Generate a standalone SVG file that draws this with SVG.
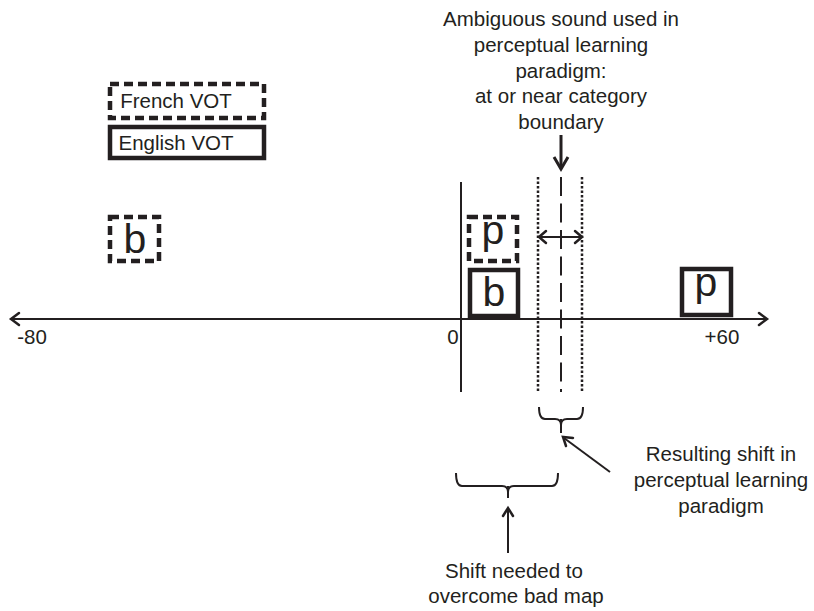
<svg xmlns="http://www.w3.org/2000/svg" width="814" height="611" viewBox="0 0 814 611">
<style>
text{font-family:"Liberation Sans",Arial,sans-serif;fill:#231f20}
.t{font-size:20.5px;text-anchor:middle}
.big{font-size:41px;text-anchor:middle}
.box{fill:none;stroke:#231f20;stroke-width:4.5}
.dash{stroke-dasharray:9 5}
.ln{fill:none;stroke:#231f20;stroke-width:2}
.dot{stroke:#231f20;stroke-width:2.5;stroke-dasharray:2.5 2}
.head{fill:none;stroke:#231f20;stroke-width:2.5;stroke-linecap:round;stroke-linejoin:miter}
</style>
<rect width="814" height="611" fill="#fff"/>
<g id="legend-french"><rect class="box dash" x="110" y="84" width="154" height="34"/><text class="t" x="176" y="108">French VOT</text></g>
<g id="legend-english"><rect class="box" x="110" y="127" width="154" height="31"/><text class="t" x="176" y="150">English VOT</text></g>
<g id="french-b"><rect class="box dash" x="110" y="217" width="49" height="44"/><text class="big" x="135" y="253">b</text></g>
<g id="french-p"><rect class="box dash" x="469" y="217" width="48" height="44"/><text class="big" x="493" y="244">p</text></g>
<g id="english-b"><rect class="box" x="470" y="270" width="48" height="46"/><text class="big" x="494" y="306">b</text></g>
<g id="english-p"><rect class="box" x="682" y="269" width="49" height="46"/><text class="big" x="706" y="296">p</text></g>
<g id="connectors">
<line class="ln" x1="11" y1="319" x2="767" y2="319"/>
<polyline class="head" points="19,313 11,319 19,325"/>
<polyline class="head" points="759,313 767,319 759,325"/>
<line class="ln" x1="461" y1="182" x2="461" y2="392"/>
<line class="dot" x1="538" y1="177" x2="538" y2="393"/>
<line class="dot" x1="582" y1="177" x2="582" y2="393"/>
<line x1="561" y1="177" x2="561" y2="392" stroke="#231f20" stroke-width="2" stroke-dasharray="19 7.5"/>
<line class="ln" x1="539" y1="237" x2="582" y2="237"/>
<polyline class="head" points="546,231 539,237 546,243"/>
<polyline class="head" points="575,231 582,237 575,243"/>
<line x1="561" y1="135" x2="561" y2="168" stroke="#231f20" stroke-width="3"/>
<polyline points="554,157 561,169 568,157" fill="none" stroke="#231f20" stroke-width="3"/>
<path class="ln" d="M539,407 Q539,419 545,419 L555,419 Q561,419 561,425 M583,407 Q583,419 577,419 L567,419 Q561,419 561,425 M561,419 L561,433"/>
<path class="ln" d="M456,473 Q456,486 462,486 L502,486 Q508,486 508,492 M558,473 Q558,486 552,486 L514,486 Q508,486 508,492 M508,486 L508,498"/>
<line class="ln" x1="508" y1="553" x2="508" y2="509"/>
<polyline class="head" points="503,516 508,508 513,516"/>
<line class="ln" x1="610" y1="472" x2="564" y2="438"/>
<polyline class="head" points="566,446 563,437 573,438"/>
</g>
<g id="labels">
<text class="t" x="32" y="344">-80</text>
<text class="t" x="453" y="344">0</text>
<text class="t" x="722" y="344">+60</text>
<text class="t" x="561" y="26">Ambiguous sound used in</text>
<text class="t" x="561" y="52">perceptual learning</text>
<text class="t" x="561" y="78">paradigm:</text>
<text class="t" x="561" y="103">at or near category</text>
<text class="t" x="561" y="129">boundary</text>
<text class="t" x="721" y="461">Resulting shift in</text>
<text class="t" x="721" y="487">perceptual learning</text>
<text class="t" x="721" y="513">paradigm</text>
<text class="t" x="514" y="578">Shift needed to</text>
<text class="t" x="516" y="603">overcome bad map</text>
</g>
</svg>
